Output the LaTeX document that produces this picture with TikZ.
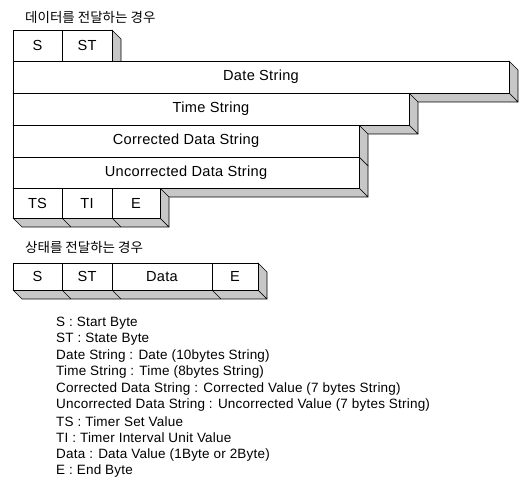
\documentclass[tikz,border=0pt]{standalone}
\usepackage{fontspec}
\setmainfont{Liberation Sans}
\newfontfamily\cellfont[LetterSpace=2]{Liberation Sans}
\newfontfamily\legfont[LetterSpace=1.5]{Liberation Sans}
\newfontfamily\krfont{Noto Sans CJK KR}
\usetikzlibrary{backgrounds}
\begin{document}
\begin{tikzpicture}[x=1pt,y=-1pt,
  cell/.style={draw,fill=white,line width=0.8pt,inner sep=0pt,outer sep=0pt,anchor=north west,font=\cellfont\fontsize{14.6}{15}\selectfont},
  side/.style={draw,fill=black!22,line width=0.6pt,line join=round},
  legend/.style={anchor=west,inner sep=0pt,font=\legfont\fontsize{13.5}{14}\selectfont},
  title/.style={anchor=west,inner sep=0pt,font=\krfont\fontsize{13.5}{14}\selectfont}]
\useasboundingbox (0,0) rectangle (520,481);
\def\dd{9}
% titles
\node[title] (t1) at (25,17) {데이터를 전달하는 경우};
\node[title] (t2) at (25,247) {상태를 전달하는 경우};
% first structure
\node[cell,minimum width=49pt,minimum height=31pt] (s1) at (13,30) {S};
\node[cell,minimum width=50pt,minimum height=31pt] (st1) at (62,30) {ST};
\node[cell,minimum width=496pt,minimum height=32pt] (date) at (13,61) {Date String};
\node[cell,minimum width=396pt,minimum height=32pt] (time) at (13,93) {Time String};
\node[cell,minimum width=346pt,minimum height=32pt] (corr) at (13,125) {Corrected Data String};
\node[cell,minimum width=346pt,minimum height=31pt] (unc) at (13,157) {Uncorrected Data String};
\node[cell,minimum width=49pt,minimum height=30pt] (ts) at (13,188) {TS};
\node[cell,minimum width=50pt,minimum height=30pt] (ti) at (62,188) {TI};
\node[cell,minimum width=48pt,minimum height=30pt] (e1) at (112,188) {E};
% second structure
\node[cell,minimum width=49pt,minimum height=27pt] (s2) at (13,263) {S};
\node[cell,minimum width=50pt,minimum height=27pt] (st2) at (62,263) {ST};
\node[cell,minimum width=100pt,minimum height=27pt] (data) at (112,263) {Data};
\node[cell,minimum width=46pt,minimum height=27pt] (e2) at (212,263) {E};
% 3D sides
\begin{pgfonlayer}{background}
\path[side] (st1.north east) -- ++(\dd,\dd) -- ([shift={(\dd,\dd)}]st1.south east) -- (st1.south east) -- cycle;
\foreach \n in {date,time,corr,unc}{
  \path[side] (\n.north east) -- ++(\dd,\dd) -- ([shift={(\dd,\dd)}]\n.south east) -- (\n.south east) -- cycle;
  \path[side] (\n.south west) -- (\n.south east) -- ++(\dd,\dd) -- ([shift={(\dd,\dd)}]\n.south west) -- cycle;
}
\path[side] (ts.south west) -- (e1.south east) -- ++(\dd,\dd) -- ([shift={(\dd,\dd)}]ts.south west) -- cycle;
\path[side] (e1.north east) -- ++(\dd,\dd) -- ([shift={(\dd,\dd)}]e1.south east) -- (e1.south east) -- cycle;
\draw[line width=0.6pt] (ti.south west) -- ++(\dd,\dd) (e1.south west) -- ++(\dd,\dd);
\path[side] (s2.south west) -- (e2.south east) -- ++(\dd,\dd) -- ([shift={(\dd,\dd)}]s2.south west) -- cycle;
\path[side] (e2.north east) -- ++(\dd,\dd) -- ([shift={(\dd,\dd)}]e2.south east) -- (e2.south east) -- cycle;
\draw[line width=0.6pt] (st2.south west) -- ++(\dd,\dd) (data.south west) -- ++(\dd,\dd) (e2.south west) -- ++(\dd,\dd);
\end{pgfonlayer}
% legend
\node[legend] (l1) at (56,323) {S : Start Byte};
\node[legend] (l2) at (56,339.4) {ST : State Byte};
\node[legend] (l3) at (56,355.9) {Date String : Date (10bytes String)};
\node[legend] (l4) at (56,372.3) {Time String : Time (8bytes String)};
\node[legend] (l5) at (56,388.8) {Corrected Data String : Corrected Value (7 bytes String)};
\node[legend] (l6) at (56,405.2) {Uncorrected Data String : Uncorrected Value (7 bytes String)};
\node[legend] (l7) at (56,421.7) {TS : Timer Set Value};
\node[legend] (l8) at (56,438.1) {TI : Timer Interval Unit Value};
\node[legend] (l9) at (56,454.6) {Data : Data Value (1Byte or 2Byte)};
\node[legend] (l10) at (56,471) {E : End Byte};
\end{tikzpicture}
\end{document}
